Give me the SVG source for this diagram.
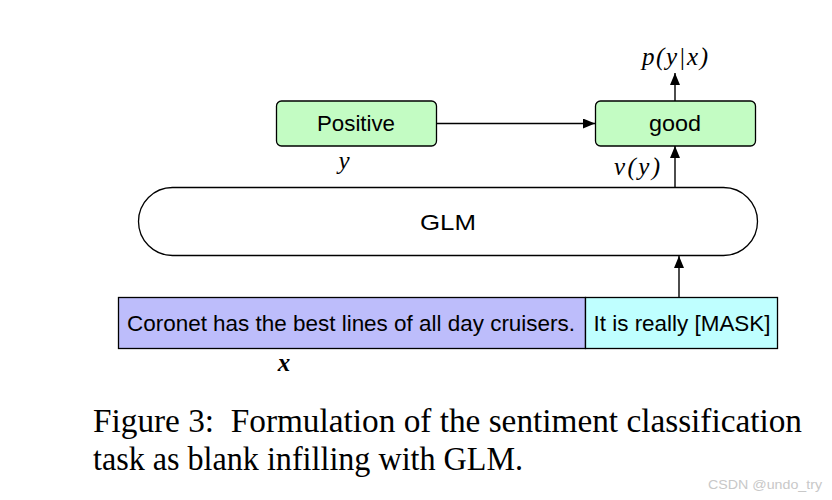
<svg xmlns="http://www.w3.org/2000/svg" width="832" height="500" viewBox="0 0 832 500">
<defs>
<marker id="ah" viewBox="0 0 12 10" refX="12" refY="5" markerWidth="12" markerHeight="10" markerUnits="userSpaceOnUse" orient="auto">
<path d="M0,0 L12,5 L0,10 Z" fill="#000"/>
</marker>
<style>
.box{fill:#c3fcc3;stroke:#000;stroke-width:1.3}
.lbl{font-family:"Liberation Sans",Arial,sans-serif;font-size:22px;fill:#000;text-anchor:middle}
.math{font-family:"Liberation Serif","Times New Roman",serif;font-style:italic;font-size:25px;fill:#000;text-anchor:middle}
.conn{stroke:#000;stroke-width:1.4;fill:none;marker-end:url(#ah)}
.cap{font-family:"Liberation Serif","Times New Roman",serif;font-size:33px;fill:#000}
</style>
</defs>
<rect width="832" height="500" fill="#fff"/>
<g id="positive">
<rect class="box" x="276.5" y="101" width="160" height="45" rx="5"/>
<text class="lbl" x="356" y="131" textLength="78" lengthAdjust="spacingAndGlyphs">Positive</text>
<text class="math" x="344" y="169">y</text>
</g>
<g id="good">
<rect class="box" x="595.5" y="101" width="160" height="45" rx="5"/>
<text class="lbl" x="675" y="131" textLength="52" lengthAdjust="spacingAndGlyphs">good</text>
<text class="math" x="637" y="175" textLength="46" lengthAdjust="spacing">v(y)</text>
<text class="math" x="675" y="65" textLength="66" lengthAdjust="spacing">p(y|x)</text>
</g>
<g id="glm">
<rect x="138.5" y="187.5" width="619" height="68" rx="34" fill="#fff" stroke="#000" stroke-width="1.3"/>
<text class="lbl" x="448" y="230" textLength="56" lengthAdjust="spacingAndGlyphs">GLM</text>
</g>
<g id="input">
<rect x="118.5" y="297.5" width="467" height="51" fill="#bdbdfb" stroke="#000" stroke-width="1.3"/>
<rect x="585.5" y="297.5" width="192" height="51" fill="#bfffff" stroke="#000" stroke-width="1.3"/>
<text class="lbl" x="351" y="331" font-size="21" textLength="448" lengthAdjust="spacingAndGlyphs">Coronet has the best lines of all day cruisers.</text>
<text class="lbl" x="682" y="331" font-size="21" textLength="177" lengthAdjust="spacingAndGlyphs">It is really [MASK]</text>
<text class="math" x="284" y="371" font-weight="bold" font-size="25">x</text>
</g>
<g id="connectors">
<line class="conn" x1="436.5" y1="123.5" x2="595" y2="123.5"/>
<line class="conn" x1="675" y1="101" x2="675" y2="73"/>
<line class="conn" x1="675" y1="187" x2="675" y2="146"/>
<line class="conn" x1="679" y1="297" x2="679" y2="256"/>
</g>
<g id="caption">
<text class="cap" x="93" y="432" textLength="709" lengthAdjust="spacingAndGlyphs" xml:space="preserve">Figure 3:  Formulation of the sentiment classification</text>
<text class="cap" x="93" y="470" textLength="430" lengthAdjust="spacingAndGlyphs">task as blank infilling with GLM.</text>
</g>
<text x="708" y="489" font-family="'Liberation Sans',Arial,sans-serif" font-size="12" fill="#c8c8c8" textLength="114" lengthAdjust="spacingAndGlyphs">CSDN @undo_try</text>
</svg>
